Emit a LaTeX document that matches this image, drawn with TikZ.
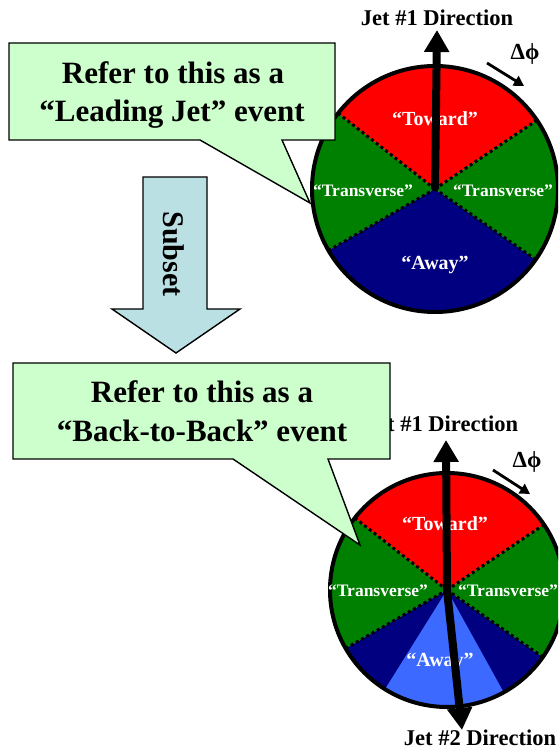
\documentclass[tikz,border=0pt]{standalone}
\usepackage{fontspec}
\setmainfont{Liberation Serif}
\usetikzlibrary{arrows.meta}
\definecolor{towardred}{RGB}{255,0,0}
\definecolor{transgreen}{RGB}{0,128,0}
\definecolor{awaynavy}{RGB}{0,0,128}
\definecolor{awaylight}{RGB}{60,105,255}
\definecolor{calloutfill}{RGB}{204,255,204}
\definecolor{subsetfill}{RGB}{187,224,227}
\tikzset{
  sectorline/.style={line width=3pt, dash pattern=on 3pt off 3pt},
  rim/.style={line width=4pt},
  jetarrow/.style={line width=8pt, -{Triangle[width=24pt,length=22pt]}},
  dphiarrow/.style={line width=2.8pt, -{Triangle[width=11pt,length=10pt]}},
  callout/.style={fill=calloutfill, draw=black, line width=1.4pt, line join=miter},
  callouttext/.style={font=\bfseries\fontsize{31}{31}\selectfont, anchor=base, inner sep=0pt},
  regionlabel/.style={text=white, font=\bfseries\fontsize{20}{20}\selectfont, anchor=base, inner sep=0pt},
  translabel/.style={text=white, font=\bfseries\fontsize{17.5}{17.5}\selectfont, anchor=base, inner sep=0pt},
  dirlabel/.style={font=\bfseries\fontsize{22.5}{22.5}\selectfont, anchor=base, inner sep=0pt},
  dphilabel/.style={font=\bfseries\fontsize{23}{23}\selectfont, anchor=center, inner sep=0pt},
  subsettext/.style={font=\bfseries\fontsize{30}{30}\selectfont, rotate=-90, inner sep=0pt}
}
\begin{document}
\begin{tikzpicture}[x=1pt,y=1pt]
\useasboundingbox (0,0) rectangle (558,750);
\clip (0,0) rectangle (558,750);
% ---------------- top circle ----------------
\coordinate (c1) at (435,561);
\def\ra{123}
\fill[towardred] (c1) -- ++(34:\ra) arc[start angle=34,end angle=142,radius=\ra] -- cycle;
\fill[transgreen] (c1) -- ++(142:\ra) arc[start angle=142,end angle=210,radius=\ra] -- cycle;
\fill[awaynavy] (c1) -- ++(210:\ra) arc[start angle=210,end angle=325,radius=\ra] -- cycle;
\fill[transgreen] (c1) -- ++(-35:\ra) arc[start angle=-35,end angle=34,radius=\ra] -- cycle;
\draw[sectorline] (c1) -- ++(34:\ra);
\draw[sectorline] (c1) -- ++(142:\ra);
\draw[sectorline] (c1) -- ++(210:\ra);
\draw[sectorline] (c1) -- ++(-35:\ra);
\draw[rim] (c1) circle[radius=\ra];
\node[regionlabel] (tw1) at (435,624) {“Toward”};
\node[translabel] (trl1) at (363,553) {“Transverse”};
\node[translabel] (trr1) at (503,553) {“Transverse”};
\node[regionlabel] (aw1) at (435,480) {“Away”};
\coordinate (j1tip) at (437,720);
\draw[jetarrow] (c1) -- (j1tip);
\node[dirlabel] (j1lab) at (437,724) {Jet \#1 Direction};
\node[dphilabel] (dphi1) at (525,696) {Δϕ};
\coordinate (da1s) at (487,687);
\coordinate (da1e) at (524,664);
\draw[dphiarrow] (da1s) -- (da1e);
% ---------------- bottom circle ----------------
\coordinate (c2) at (447,160);
\def\rb{117}
\fill[towardred] (c2) -- ++(34:\rb) arc[start angle=34,end angle=142,radius=\rb] -- cycle;
\fill[transgreen] (c2) -- ++(142:\rb) arc[start angle=142,end angle=210,radius=\rb] -- cycle;
\fill[awaynavy] (c2) -- ++(210:\rb) arc[start angle=210,end angle=325,radius=\rb] -- cycle;
\fill[transgreen] (c2) -- ++(-35:\rb) arc[start angle=-35,end angle=34,radius=\rb] -- cycle;
\fill[awaylight] (c2) -- ++(-122:\rb) arc[start angle=-122,end angle=-61,radius=\rb] -- cycle;
\draw[sectorline] (c2) -- ++(34:\rb);
\draw[sectorline] (c2) -- ++(142:\rb);
\draw[sectorline] (c2) -- ++(210:\rb);
\draw[sectorline] (c2) -- ++(-35:\rb);
\draw[rim] (c2) circle[radius=\rb];
\node[regionlabel] (tw2) at (445,219) {“Toward”};
\node[translabel] (trl2) at (378,153) {“Transverse”};
\node[translabel] (trr2) at (508,153) {“Transverse”};
\node[regionlabel] (aw2) at (440,83) {“Away”};
\node[dirlabel] (j1lab2) at (442,318) {Jet \#1 Direction};
\coordinate (j1tip2) at (446,310);
\coordinate (j2tip) at (462,20);
\draw[jetarrow] (c2) -- (j1tip2);
\draw[jetarrow] (c2) -- (j2tip);
\node[dirlabel] (j2lab) at (480,5) {Jet \#2 Direction};
\node[dphilabel] (dphi2) at (527,288) {Δϕ};
\coordinate (da2s) at (493,280);
\coordinate (da2e) at (530,256);
\draw[dphiarrow] (da2s) -- (da2e);
% ---------------- subset arrow ----------------
\draw[fill=subsetfill, line width=1.4pt, line join=miter]
  (143,573) -- (207,573) -- (207,441) -- (240,441) -- (176,397) -- (112,441) -- (143,441) -- cycle;
\node[subsettext] (subset) at (174,496) {Subset};
% ---------------- callouts ----------------
\draw[callout] (9,707) -- (335,707) -- (335,610) -- (282,610) -- (310,547) -- (200,610) -- (9,610) -- cycle;
\node[callouttext] (c1l1) at (173,666) {Refer to this as a};
\node[callouttext] (c1l2) at (172,628) {“Leading Jet” event};
\draw[callout] (13,387) -- (390,387) -- (390,291) -- (328,291) -- (360,205) -- (233,291) -- (13,291) -- cycle;
\node[callouttext] (c2l1) at (202,347) {Refer to this as a};
\node[callouttext] (c2l2) at (202,308) {“Back-to-Back” event};
\end{tikzpicture}
\end{document}
